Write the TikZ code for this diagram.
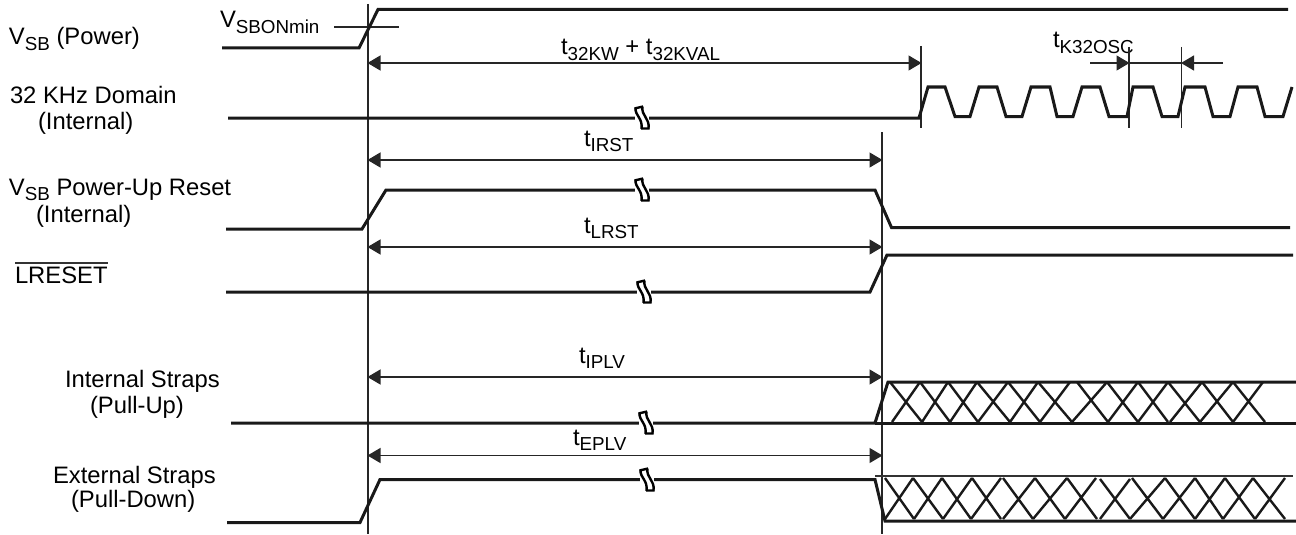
\documentclass[tikz,border=0pt]{standalone}
\usepackage{fontspec}
\setmainfont{Liberation Sans}
\usetikzlibrary{arrows.meta}
\newcommand{\sbs}[1]{\raisebox{-5.5pt}{\fontsize{18.8}{19}\selectfont #1}}
\tikzset{
  lbl/.style={anchor=base west,inner sep=0pt,outer sep=0pt,font=\fontsize{23.8}{26}\selectfont},
  sig/.style={line width=3pt,line join=miter,black!90},
  thin line/.style={line width=1.4pt,black!85},
  dim/.style={line width=1.4pt,black!85,-{Triangle[length=13pt,width=15pt]},shorten >=-0.5pt},
  dimb/.style={line width=1.4pt,black!85,{Triangle[length=13pt,width=15pt]}-{Triangle[length=13pt,width=15pt]},shorten >=-0.5pt,shorten <=-0.5pt},
  hatch/.style={line width=2.4pt,black!90},
  brkline/.style={line width=2.4pt,black}
}
\newcommand{\brk}[2]{%
  \begin{scope}[shift={(#1,#2)}]
    \fill[white] (-7,-5) rectangle (7,5);
    \draw[brkline] (-7.5,-9.5) -- (1,-11.5) (-1,10.5) -- (7.5,10.5);
    \draw[brkline] (-6.5,-10) .. controls (-7,-2) and (1,0) .. (-0.5,11);
    \draw[brkline] (0.5,-11.5) .. controls (-1,-2) and (8,0) .. (6.5,10.5);
  \end{scope}}
\begin{document}
\begin{tikzpicture}[x=1pt,y=-1pt]
\useasboundingbox (0,0) rectangle (1296,535);

% labels
\node[lbl] (l1) at (9,45) {V\sbs{SB} (Power)};
\node[lbl] (l2) at (10,103) {32 KHz Domain};
\node[lbl] (l2b) at (38,129) {(Internal)};
\node[lbl] (l3) at (9,195) {V\sbs{SB} Power-Up Reset};
\node[lbl] (l3b) at (36,222) {(Internal)};
\node[lbl] (l4) at (15,283) {LRESET};
\coordinate (ova) at (15,263);
\coordinate (ovb) at (108,263);
\draw[line width=1.2pt,black!80] (ova) -- (ovb);
\node[lbl] (l5) at (65,387) {Internal Straps};
\node[lbl] (l5b) at (90,413) {(Pull-Up)};
\node[lbl] (l6) at (53,483) {External Straps};
\node[lbl] (l6b) at (71,507) {(Pull-Down)};
\node[lbl] (vmin) at (220,28) {V\sbs{SBONmin}};
\node[lbl] (t1) at (561,55) {t\sbs{32KW} + t\sbs{32KVAL}};
\node[lbl] (t2) at (1053,48) {t\sbs{K32OSC}};
\node[lbl] (t3) at (584,146) {t\sbs{IRST}};
\node[lbl] (t4) at (584,233) {t\sbs{LRST}};
\node[lbl] (t5) at (579,363) {t\sbs{IPLV}};
\node[lbl] (t6) at (573,445) {t\sbs{EPLV}};

% vertical reference lines
\coordinate (va1) at (368,4);   \coordinate (va2) at (368,534);
\coordinate (vb1) at (882,132); \coordinate (vb2) at (882,534);
\coordinate (vc1) at (921,46);  \coordinate (vc2) at (921,128);
\coordinate (vd1) at (1129,47); \coordinate (vd2) at (1129,128);
\coordinate (ve1) at (1181.5,47); \coordinate (ve2) at (1181.5,128);
\draw[thin line] (va1) -- (va2);
\draw[thin line] (vb1) -- (vb2);
\draw[thin line] (vc1) -- (vc2);
\draw[thin line] (vd1) -- (vd2);
\draw[thin line] (ve1) -- (ve2);

% threshold tick
\coordinate (tha) at (334,27); \coordinate (thb) at (399,27);
\draw[thin line] (tha) -- (thb);

% dimension arrows
\coordinate (a1l) at (368,63);  \coordinate (a1r) at (921,63);
\coordinate (a3l) at (368,160); \coordinate (a3r) at (882,160);
\coordinate (a4l) at (368,247); \coordinate (a4r) at (882,247);
\coordinate (a5l) at (368,377); \coordinate (a5r) at (882,377);
\coordinate (a6l) at (368,455.5); \coordinate (a6r) at (882,455.5);
\draw[dimb] (a1l) -- (a1r);
\draw[dimb] (a3l) -- (a3r);
\draw[dimb] (a4l) -- (a4r);
\draw[dimb] (a5l) -- (a5r);
\draw[dimb] (a6l) -- (a6r);
\coordinate (k1) at (1090,63); \coordinate (k2) at (1129,63);
\coordinate (k3) at (1181.5,63); \coordinate (k4) at (1223,63);
\draw[dim] (k1) -- (k2);
\draw[dim] (k4) -- (k3);
\draw[thin line] (k2) -- (k3);

% signals
\draw[sig] (222,48) -- (359,48) -- (378,9.5) -- (1288,9.5);
\draw[sig] (228,118) -- (919,118) -- (928,87) -- (945,87) -- (955,116.5) -- (970,116.5)
  -- (979,87) -- (997,87) -- (1006,116.5) -- (1022,116.5)
  -- (1031,87) -- (1050,87) -- (1057,116.5) -- (1073,116.5)
  -- (1082,87) -- (1100,87) -- (1109,116.5) -- (1127,116.5)
  -- (1133,87) -- (1153,87) -- (1162,116.5) -- (1178,116.5)
  -- (1185,87) -- (1205,87) -- (1213,116.5) -- (1230,116.5)
  -- (1238,87) -- (1257,87) -- (1265,116.5) -- (1283,116.5) -- (1292,87);
\draw[sig] (226,229) -- (362,229) -- (386,190) -- (875,190) -- (891.5,227.5) -- (1290,227.5);
\draw[sig] (226,292) -- (870,292) -- (887,255) -- (1293,255);
\draw[sig] (231,423) -- (875,423) -- (888,382) -- (1296,382);
\draw[sig] (875,423) -- (1296,423);
\draw[sig] (227,522.5) -- (360,522.5) -- (380,479.5) -- (875,479.5) -- (885,521) -- (1296,521);
\draw[line width=2.4pt,black!80] (875,476) -- (1293,476);

% hatching
\draw[hatch]
  (890,382) -- (922,422) (892,422) -- (920,382)
  (920,382) -- (950,422) (922,422) -- (948,382)
  (948,382) -- (978,422) (950,422) -- (977,382)
  (977,382) -- (1010,422) (978,422) -- (1008,382)
  (1008,382) -- (1040,422) (1010,422) -- (1038,382)
  (1038,382) -- (1072,422) (1040,422) -- (1070,382)
  (1077,382) -- (1108,422) (1072,422) -- (1107,382)
  (1107,382) -- (1138,422) (1108,422) -- (1138,382)
  (1138,382) -- (1168,422) (1138,422) -- (1168,382)
  (1168,382) -- (1200,422) (1170,422) -- (1202,382)
  (1202,382) -- (1233,422) (1200,422) -- (1233,382)
  (1233,382) -- (1265,422) (1233,422) -- (1263,382);
\draw[hatch]
  (885,478) -- (914,519) (885,519) -- (913,478)
  (913,478) -- (943,519) (914,519) -- (942,478)
  (942,478) -- (971,519) (943,519) -- (972,478)
  (972,478) -- (1001,519) (971,519) -- (1001,478)
  (1003,478) -- (1033,519) (1003,519) -- (1035,478)
  (1035,478) -- (1065,519) (1033,519) -- (1067,478)
  (1067,478) -- (1097,519) (1065,519) -- (1096,478)
  (1100,479) -- (1130,519) (1100,519) -- (1130,479)
  (1132,478) -- (1163,519) (1130,519) -- (1165,478)
  (1165,478) -- (1195,519) (1163,519) -- (1195,478)
  (1195,478) -- (1223,519) (1195,519) -- (1225,478)
  (1225,478) -- (1255,519) (1223,519) -- (1253,478)
  (1253,478) -- (1285,519) (1255,519) -- (1285,478);

% break marks
\brk{642}{118}
\brk{642}{190}
\brk{644}{292}
\brk{646}{423}
\brk{647}{480}
\end{tikzpicture}
\end{document}
